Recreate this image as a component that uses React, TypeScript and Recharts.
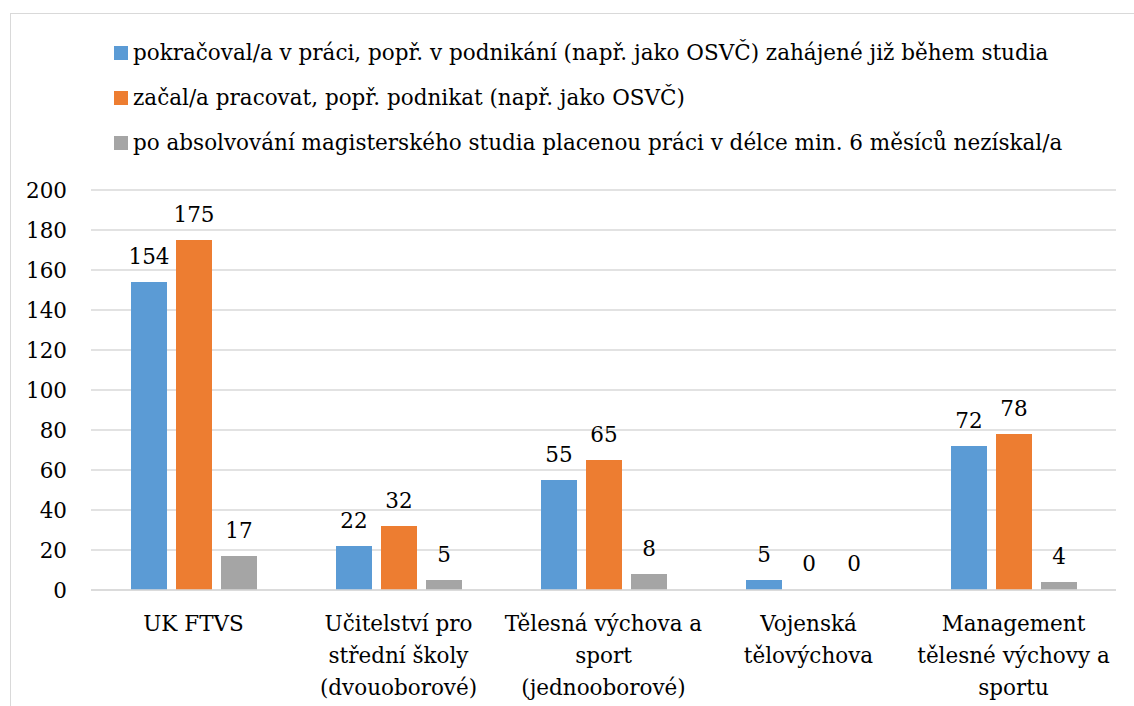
import React from 'react'
import { BarChart, Bar, XAxis, YAxis, CartesianGrid, Legend, LabelList } from 'recharts'

// Times-like serif is not installed; DejaVu Serif at a smaller size matches the widths
const FONT = "'DejaVu Serif', serif"
const FONT_SIZE = 21.5

// categories (line breaks as in the original axis labels)
const categories = [
  'UK FTVS',
  'Učitelství pro\nstřední školy\n(dvouoborové)',
  'Tělesná výchova a\nsport\n(jednooborové)',
  'Vojenská\ntělovýchova',
  'Management\ntělesné výchovy a\nsportu',
]

const seriesNames = [
  'pokračoval/a v práci, popř. v podnikání (např. jako OSVČ) zahájené již během studia',
  'začal/a pracovat, popř. podnikat (např. jako OSVČ)',
  'po absolvování magisterského studia placenou práci v délce min. 6 měsíců nezískal/a',
]

const continuedValues = [154, 22, 55, 5, 72]
const startedValues = [175, 32, 65, 0, 78]
const notFoundValues = [17, 5, 8, 0, 4]

const yTicks = [0, 20, 40, 60, 80, 100, 120, 140, 160, 180, 200]

const colors = ['#5B9BD5', '#ED7D31', '#A5A5A5']

const data = categories.map((name, i) => ({
  name,
  continued: continuedValues[i],
  started: startedValues[i],
  notFound: notFoundValues[i],
}))

// multi-line category label under the axis
const CategoryTick = ({ x, y, payload }: any) => {
  const lines = String(payload.value).split('\n')
  return (
    <text x={x} y={y + 41} textAnchor="middle" fontSize={FONT_SIZE} fill="#000" fontFamily={FONT}>
      {lines.map((line, i) => (
        <tspan key={i} x={x} dy={i === 0 ? 0 : 32}>
          {line}
        </tspan>
      ))}
    </text>
  )
}

// legend drawn in series order (recharts sorts payload by name otherwise)
const LegendContent = () => (
  <div style={{ height: 162, paddingTop: 2, paddingLeft: 103, boxSizing: 'border-box', fontFamily: FONT }}>
    {seriesNames.map((name, i) => (
      <div key={i} style={{ height: 45, display: 'flex', alignItems: 'center' }}>
        <span style={{ width: 14, height: 14, background: colors[i], marginRight: 5, display: 'inline-block' }} />
        <span style={{ fontSize: FONT_SIZE, color: '#000', whiteSpace: 'nowrap' }}>{name}</span>
      </div>
    ))}
  </div>
)

// zero bars still get a label ("0") but no visible rectangle
const zeroAwareShape = (key: string) => (props: any) => {
  if (props.payload[key] === 0) return <g />
  return <rect x={props.x} y={props.y} width={props.width} height={props.height} fill={props.fill} />
}

const labelProps = { position: 'top' as const, offset: 18, fontSize: FONT_SIZE, fill: '#000', fontFamily: FONT }

export default function App() {
  return (
    <div
      style={{
        position: 'fixed',
        left: 10,
        top: 13,
        width: 1124,
        height: 693,
        borderTop: '1px solid #d9d9d9',
        borderLeft: '1px solid #d9d9d9',
        background: '#fff',
      }}
    >
      <BarChart
        width={1123}
        height={692}
        data={data}
        margin={{ top: 14, right: 18, bottom: 16, left: 0 }}
        barSize={36}
        barGap={9}
      >
        <CartesianGrid vertical={false} stroke="#d9d9d9" strokeWidth={1.5} />
        <XAxis
          dataKey="name"
          height={100}
          interval={0}
          tick={<CategoryTick />}
          tickLine={false}
          tickSize={0}
          tickMargin={0}
          axisLine={{ stroke: '#d9d9d9', strokeWidth: 1.5 }}
        />
        <YAxis
          width={80}
          domain={[0, 200]}
          ticks={yTicks}
          interval={0}
          axisLine={false}
          tickLine={false}
          tickSize={0}
          tickMargin={24}
          tick={{ fontSize: FONT_SIZE, fill: '#000', fontFamily: FONT }}
        />
        <Legend verticalAlign="top" align="left" content={<LegendContent />} />
        <Bar dataKey="continued" name={seriesNames[0]} fill={colors[0]} minPointSize={1} shape={zeroAwareShape('continued')} isAnimationActive={false}>
          <LabelList dataKey="continued" {...labelProps} />
        </Bar>
        <Bar dataKey="started" name={seriesNames[1]} fill={colors[1]} minPointSize={1} shape={zeroAwareShape('started')} isAnimationActive={false}>
          <LabelList dataKey="started" {...labelProps} />
        </Bar>
        <Bar dataKey="notFound" name={seriesNames[2]} fill={colors[2]} minPointSize={1} shape={zeroAwareShape('notFound')} isAnimationActive={false}>
          <LabelList dataKey="notFound" {...labelProps} />
        </Bar>
      </BarChart>
    </div>
  )
}
